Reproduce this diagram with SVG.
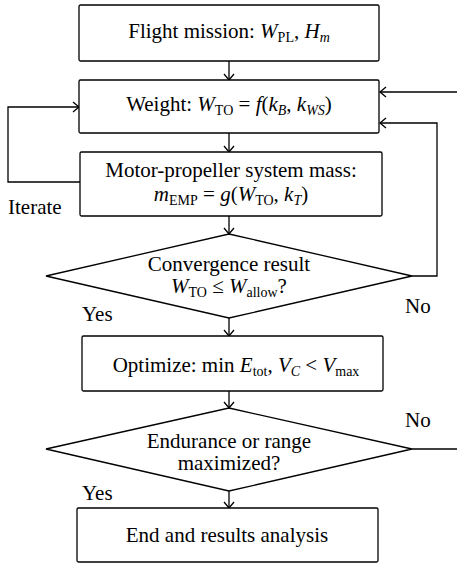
<svg xmlns="http://www.w3.org/2000/svg" width="457" height="563" viewBox="0 0 457 563">
<style>
.b{fill:#fff;stroke:#000;stroke-width:1.3}
.c{fill:none;stroke:#000;stroke-width:1.3}
text{font-family:"Liberation Serif","Times New Roman",serif;font-size:21px;fill:#000}
.m{text-anchor:middle}
.i{font-style:italic}
.s{font-size:14px}
</style>
<defs>
<marker id="a" markerWidth="12" markerHeight="12" refX="10" refY="6" orient="auto" markerUnits="userSpaceOnUse">
<path d="M4,1 L10,6 L4,11" fill="none" stroke="#000" stroke-width="1.3"/>
</marker>
</defs>
<g id="connectors">
<line class="c" x1="229" y1="61" x2="229" y2="80" marker-end="url(#a)"/>
<line class="c" x1="229" y1="133" x2="229" y2="152" marker-end="url(#a)"/>
<line class="c" x1="229" y1="216" x2="229" y2="234" marker-end="url(#a)"/>
<line class="c" x1="229" y1="318" x2="229" y2="336" marker-end="url(#a)"/>
<line class="c" x1="229" y1="391" x2="229" y2="408" marker-end="url(#a)"/>
<line class="c" x1="229" y1="491" x2="229" y2="508" marker-end="url(#a)"/>
<polyline class="c" points="80,182 8,182 8,107 79,107" marker-end="url(#a)"/>
<polyline class="c" points="412,276 437,276 437,123 380,123" marker-end="url(#a)"/>
<line class="c" x1="457" y1="92" x2="380" y2="92" marker-end="url(#a)"/>
<line class="c" x1="412" y1="449" x2="457" y2="449"/>
<text x="8" y="214">Iterate</text>
<text x="405" y="313">No</text>
<text x="82" y="321">Yes</text>
<text x="405" y="427">No</text>
<text x="82" y="500">Yes</text>
</g>
<g id="n1">
<rect class="b" x="79" y="5" width="300" height="56" rx="1.5"/>
<text class="m" x="229" y="38">Flight mission: <tspan class="i">W</tspan><tspan class="s" dy="4">PL</tspan><tspan dy="-4">, </tspan><tspan class="i">H</tspan><tspan class="s i" dy="4">m</tspan></text>
</g>
<g id="n2">
<rect class="b" x="79" y="80" width="300" height="53" rx="1.5"/>
<text class="m" x="229" y="111">Weight: <tspan class="i">W</tspan><tspan class="s" dy="4">TO</tspan><tspan dy="-4">  =  </tspan><tspan class="i">f</tspan>(<tspan class="i">k</tspan><tspan class="s i" dy="4">B</tspan><tspan dy="-4">, </tspan><tspan class="i">k</tspan><tspan class="s i" dy="4">WS</tspan><tspan dy="-4">)</tspan></text>
</g>
<g id="n3">
<rect class="b" x="80" y="152" width="302" height="64" rx="1.5"/>
<text class="m" x="231" y="177">Motor-propeller system mass:</text>
<text class="m" x="231" y="201"><tspan class="i">m</tspan><tspan class="s" dy="4">EMP</tspan><tspan dy="-4"> = </tspan><tspan class="i">g</tspan>(<tspan class="i">W</tspan><tspan class="s" dy="4">TO</tspan><tspan dy="-4">, </tspan><tspan class="i">k</tspan><tspan class="s i" dy="4">T</tspan><tspan dy="-4">)</tspan></text>
</g>
<g id="d1">
<polygon class="b" points="229,234 412,276 229,318 46,276"/>
<text class="m" x="229" y="271">Convergence result</text>
<text class="m" x="229" y="293"><tspan class="i">W</tspan><tspan class="s" dy="4">TO</tspan><tspan dy="-4"> ≤ </tspan><tspan class="i">W</tspan><tspan class="s" dy="4">allow</tspan><tspan dy="-4">?</tspan></text>
</g>
<g id="n4">
<rect class="b" x="82" y="336" width="301" height="55" rx="1.5"/>
<text class="m" x="236" y="372">Optimize: min <tspan class="i">E</tspan><tspan class="s" dy="4">tot</tspan><tspan dy="-4">, </tspan><tspan class="i">V</tspan><tspan class="s i" dy="4">C</tspan><tspan dy="-4"> &lt; </tspan><tspan class="i">V</tspan><tspan class="s" dy="4">max</tspan></text>
</g>
<g id="d2">
<polygon class="b" points="229,408 412,449 229,491 46,449"/>
<text class="m" x="229" y="448">Endurance or range</text>
<text class="m" x="229" y="470">maximized?</text>
</g>
<g id="n5">
<rect class="b" x="77" y="508" width="301" height="54" rx="1.5"/>
<text class="m" x="227" y="542">End and results analysis</text>
</g>
</svg>
